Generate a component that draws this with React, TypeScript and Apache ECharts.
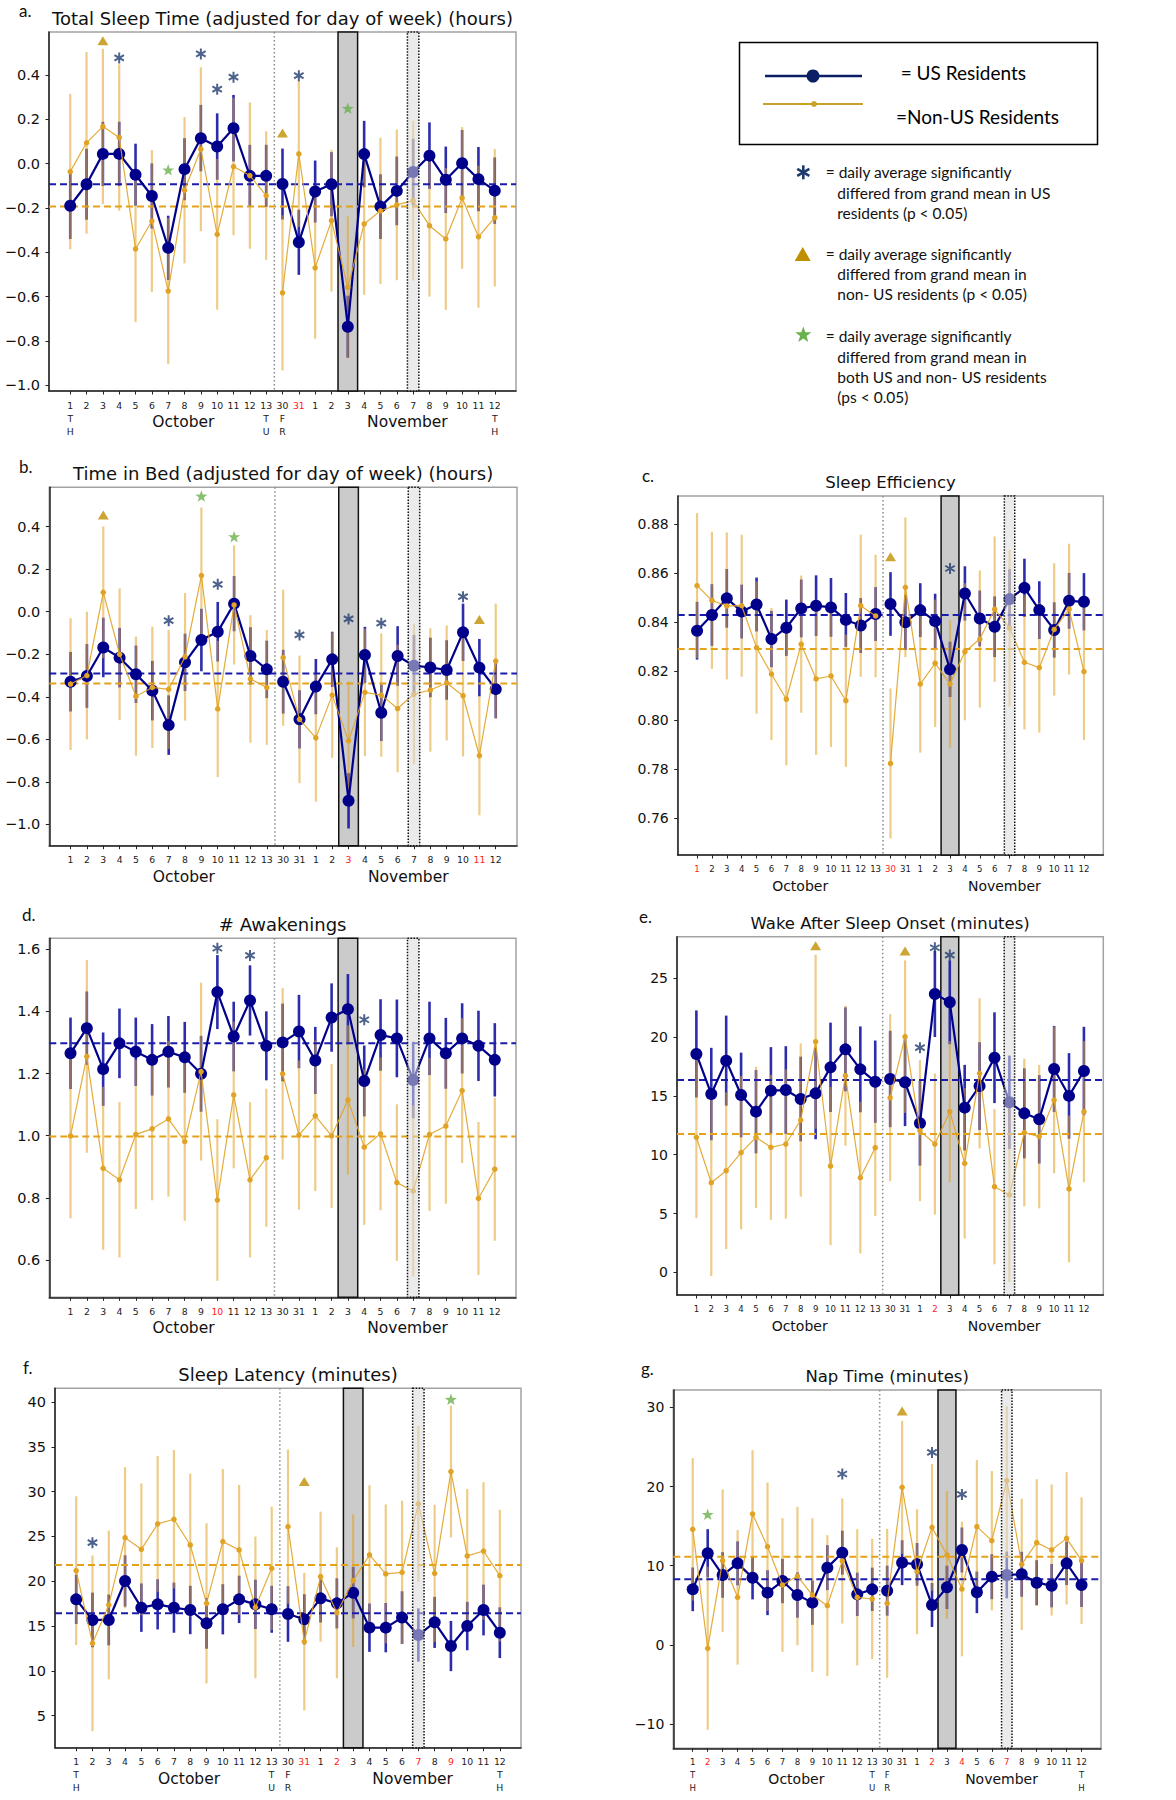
import React, { useEffect, useRef } from "react";
import * as echarts from "echarts";

// ---------------- shared categories ----------------
const dayLabels = ["1","2","3","4","5","6","7","8","9","10","11","12","13","30","31","1","2","3","4","5","6","7","8","9","10","11","12"];
const weekdayLabels = ["TH","","","","","","","","","","","","TU","FR","","","","","","","","","","","","","TH"];
const monthNames = ["October", "November"];
const monthCenters = [6.93, 20.65];
const shadeSpan = [16.4, 17.6]; // Nov 3
const dottedSpan = [20.65, 21.35]; // Nov 7
const dividerX = 12.5;
const gapAfterIndex = 12;

// ---------------- a. Total Sleep Time ----------------
const tstUsMean = [-0.19, -0.093, 0.044, 0.044, -0.05, -0.146, -0.38, -0.025, 0.115, 0.077, 0.16, -0.055, -0.055, -0.092, -0.355, -0.126, -0.093, -0.736, 0.043, -0.194, -0.123, -0.038, 0.036, -0.073, 0.002, -0.07, -0.122];
const tstUsErr = [0.15, 0.16, 0.145, 0.145, 0.14, 0.147, 0.145, 0.14, 0.15, 0.15, 0.15, 0.14, 0.14, 0.16, 0.147, 0.14, 0.145, 0.14, 0.15, 0.146, 0.155, 0.15, 0.15, 0.15, 0.15, 0.145, 0.15];
const tstNonMean = [-0.036, 0.094, 0.168, 0.118, -0.385, -0.259, -0.575, -0.12, 0.065, -0.319, -0.013, -0.054, -0.144, -0.583, 0.044, -0.47, -0.257, -0.558, -0.272, -0.213, -0.186, -0.167, -0.28, -0.34, -0.155, -0.33, -0.244];
const tstNonErr = [0.35, 0.41, 0.35, 0.33, 0.33, 0.32, 0.33, 0.33, 0.37, 0.34, 0.31, 0.33, 0.29, 0.35, 0.33, 0.32, 0.32, 0.32, 0.32, 0.33, 0.34, 0.36, 0.32, 0.32, 0.32, 0.32, 0.31];
const tstUsGrand = -0.093;
const tstNonGrand = -0.194;
const tstTicks = [-1.0, -0.8, -0.6, -0.4, -0.2, 0.0, 0.2, 0.4];
const tstAsterisks = [[3, 0.477], [8, 0.495], [9, 0.336], [10, 0.39], [14, 0.397]];
const tstTriangles = [[2, 0.555], [13, 0.138]];
const tstStars = [[6, -0.028], [17, 0.25]];
const tstRed = [14];

// ---------------- b. Time in Bed ----------------
const tibUsMean = [-0.329, -0.302, -0.168, -0.216, -0.294, -0.371, -0.533, -0.238, -0.133, -0.094, 0.038, -0.208, -0.271, -0.329, -0.506, -0.352, -0.224, -0.889, -0.203, -0.475, -0.208, -0.254, -0.262, -0.274, -0.097, -0.263, -0.364];
const tibUsErr = [0.14, 0.15, 0.14, 0.14, 0.135, 0.14, 0.14, 0.135, 0.147, 0.14, 0.13, 0.135, 0.135, 0.15, 0.137, 0.13, 0.13, 0.13, 0.132, 0.133, 0.14, 0.145, 0.14, 0.14, 0.135, 0.135, 0.137];
const tibNonMean = [-0.34, -0.3, 0.091, -0.2, -0.397, -0.356, -0.365, -0.212, 0.17, -0.457, 0.032, -0.316, -0.356, -0.216, -0.506, -0.593, -0.392, -0.607, -0.379, -0.392, -0.455, -0.387, -0.368, -0.335, -0.395, -0.677, -0.232];
const tibNonErr = [0.31, 0.3, 0.31, 0.31, 0.28, 0.285, 0.28, 0.3, 0.32, 0.32, 0.28, 0.3, 0.27, 0.32, 0.3, 0.3, 0.295, 0.28, 0.3, 0.29, 0.3, 0.33, 0.29, 0.27, 0.285, 0.28, 0.27];
const tibUsGrand = -0.29;
const tibNonGrand = -0.338;
const tibTicks = [-1.0, -0.8, -0.6, -0.4, -0.2, 0.0, 0.2, 0.4];
const tibAsterisks = [[6, -0.042], [9, 0.129], [14, -0.109], [17, -0.034], [19, -0.054], [24, 0.071]];
const tibTriangles = [[2, 0.455], [25, -0.036]];
const tibStars = [[8, 0.544], [10, 0.353]];
const tibRed = [17, 25];

// ---------------- c. Sleep Efficiency ----------------
const seUsMean = [0.8366, 0.843, 0.8498, 0.8444, 0.8473, 0.8332, 0.8378, 0.8457, 0.8468, 0.8461, 0.841, 0.8387, 0.8434, 0.8475, 0.84, 0.845, 0.8405, 0.8208, 0.8518, 0.8416, 0.8382, 0.8495, 0.8541, 0.845, 0.8369, 0.8488, 0.8484];
const seUsErr = [0.0118, 0.0126, 0.012, 0.011, 0.011, 0.0115, 0.0115, 0.0118, 0.0124, 0.012, 0.011, 0.0112, 0.011, 0.013, 0.0113, 0.011, 0.0112, 0.0113, 0.0111, 0.0114, 0.0124, 0.0122, 0.0119, 0.0118, 0.0113, 0.0114, 0.0117];
const seNonMean = [0.855, 0.849, 0.8467, 0.8468, 0.8297, 0.8189, 0.8086, 0.8311, 0.8169, 0.8181, 0.808, 0.8468, 0.8426, 0.7824, 0.8543, 0.8148, 0.8233, 0.8148, 0.828, 0.8332, 0.8454, 0.8376, 0.8237, 0.8215, 0.8371, 0.8454, 0.8199];
const seNonErr = [0.0296, 0.028, 0.03, 0.029, 0.027, 0.027, 0.027, 0.028, 0.031, 0.029, 0.027, 0.029, 0.025, 0.0306, 0.0285, 0.028, 0.026, 0.026, 0.028, 0.028, 0.0297, 0.032, 0.0274, 0.0265, 0.027, 0.0267, 0.0279];
const seUsGrand = 0.843;
const seNonGrand = 0.8291;
const seTicks = [0.76, 0.78, 0.8, 0.82, 0.84, 0.86, 0.88];
const seAsterisks = [[17, 0.862]];
const seTriangles = [[13, 0.8668]];
const seStars: number[][] = [];
const seRed = [0, 13];

// ---------------- d. # Awakenings ----------------
const awUsMean = [1.265, 1.346, 1.214, 1.297, 1.27, 1.244, 1.27, 1.252, 1.199, 1.462, 1.319, 1.435, 1.289, 1.3, 1.335, 1.242, 1.38, 1.407, 1.176, 1.324, 1.313, 1.179, 1.313, 1.265, 1.313, 1.289, 1.244];
const awUsErr = [0.115, 0.118, 0.118, 0.112, 0.11, 0.115, 0.115, 0.114, 0.122, 0.119, 0.112, 0.113, 0.111, 0.125, 0.118, 0.108, 0.11, 0.113, 0.114, 0.115, 0.125, 0.123, 0.118, 0.114, 0.113, 0.113, 0.118];
const awNonMean = [0.999, 1.255, 0.895, 0.858, 1.004, 1.022, 1.054, 0.981, 1.206, 0.793, 1.131, 0.858, 0.929, 1.199, 1.002, 1.064, 0.999, 1.115, 0.963, 1.006, 0.849, 0.822, 1.004, 1.031, 1.145, 0.798, 0.892];
const awNonErr = [0.265, 0.31, 0.262, 0.25, 0.24, 0.23, 0.25, 0.255, 0.286, 0.26, 0.236, 0.25, 0.222, 0.276, 0.24, 0.242, 0.232, 0.24, 0.25, 0.246, 0.252, 0.275, 0.246, 0.25, 0.233, 0.246, 0.23];
const awUsGrand = 1.297;
const awNonGrand = 0.997;
const awTicks = [0.6, 0.8, 1.0, 1.2, 1.4, 1.6];
const awAsterisks = [[9, 1.603], [11, 1.58], [18, 1.373]];
const awTriangles: number[][] = [];
const awStars: number[][] = [];
const awRed = [9];

// ---------------- e. Wake After Sleep Onset ----------------
const wasoUsMean = [18.57, 15.16, 18.0, 15.08, 13.66, 15.45, 15.5, 14.74, 15.22, 17.43, 18.96, 17.26, 16.21, 16.44, 16.16, 12.67, 23.67, 22.96, 14.0, 15.84, 18.25, 14.46, 13.52, 13.01, 17.29, 15.0, 17.12];
const wasoUsErr = [3.7, 3.93, 3.83, 3.6, 3.54, 3.7, 3.73, 3.6, 3.9, 3.8, 3.57, 3.65, 3.5, 4.1, 3.73, 3.6, 3.66, 3.57, 3.64, 3.73, 3.86, 3.97, 3.83, 3.76, 3.66, 3.64, 3.76];
const wasoNonMean = [11.48, 7.62, 8.64, 10.18, 11.48, 10.63, 10.91, 12.95, 19.61, 9.04, 16.72, 8.05, 10.6, 14.85, 20.04, 12.05, 10.91, 13.66, 9.27, 16.92, 7.28, 6.58, 11.88, 11.54, 14.65, 7.09, 13.66];
const wasoNonErr = [6.87, 7.94, 6.66, 6.52, 6.0, 6.17, 6.35, 6.52, 7.4, 6.73, 5.95, 6.45, 5.8, 7.1, 6.49, 6.0, 6.0, 6.0, 6.4, 6.38, 6.6, 7.4, 6.28, 6.1, 6.24, 6.24, 6.0];
const wasoUsGrand = 16.35;
const wasoNonGrand = 11.76;
const wasoTicks = [0, 5, 10, 15, 20, 25];
const wasoAsterisks = [[15, 19.1], [16, 27.6], [17, 26.98]];
const wasoTriangles = [[8, 27.78], [14, 27.32]];
const wasoStars: number[][] = [];
const wasoRed = [16];

// ---------------- f. Sleep Latency ----------------
const slUsMean = [17.98, 15.68, 15.68, 20.03, 17.05, 17.42, 17.05, 16.79, 15.3, 16.87, 17.98, 17.42, 16.87, 16.34, 15.75, 18.09, 17.53, 18.72, 14.82, 14.82, 15.94, 14.0, 15.41, 12.77, 15.0, 16.79, 14.26];
const slUsErr = [2.75, 3.05, 2.83, 2.86, 2.7, 2.8, 2.8, 2.7, 2.83, 2.8, 2.64, 2.75, 2.62, 3.1, 2.8, 2.7, 2.8, 2.88, 2.7, 2.75, 2.94, 2.97, 2.85, 2.8, 2.7, 2.83, 2.83];
const slNonMean = [21.18, 13.07, 17.35, 24.86, 23.56, 26.39, 26.91, 24.04, 17.53, 24.42, 23.49, 17.09, 21.44, 26.09, 13.26, 20.51, 16.49, 20.06, 22.93, 20.81, 20.99, 28.62, 20.88, 32.23, 22.82, 23.37, 20.62];
const slNonErr = [8.3, 9.8, 8.3, 7.87, 7.35, 7.57, 7.72, 7.96, 8.93, 8.1, 7.25, 7.9, 6.88, 8.6, 7.68, 7.25, 7.3, 7.4, 7.77, 7.75, 8.0, 8.7, 7.66, 7.35, 7.47, 7.68, 7.35];
const slUsGrand = 16.42;
const slNonGrand = 21.81;
const slTicks = [5, 10, 15, 20, 25, 30, 35, 40];
const slAsterisks = [[1, 24.3]];
const slTriangles = [[14, 31.11]];
const slStars = [[23, 40.3]];
const slRed = [14, 16, 21, 23];

// ---------------- g. Nap Time ----------------
const napUsMean = [7.01, 11.56, 8.82, 10.29, 8.48, 6.59, 8.06, 6.29, 5.33, 9.75, 11.64, 6.38, 7.01, 6.84, 10.38, 10.17, 5.03, 7.26, 11.98, 6.63, 8.61, 8.82, 8.91, 7.85, 7.47, 10.29, 7.56];
const napUsErr = [2.76, 3.05, 2.88, 2.78, 2.74, 2.84, 2.8, 2.86, 2.8, 2.84, 2.78, 2.74, 2.74, 3.16, 2.84, 2.7, 2.78, 2.74, 2.84, 2.63, 2.84, 2.95, 2.84, 2.84, 2.74, 2.74, 2.78];
const napNonMean = [14.59, -0.44, 10.63, 6.0, 16.53, 12.4, 7.56, 8.69, 6.29, 4.95, 10.59, 6.0, 5.79, 5.24, 19.9, 9.24, 14.84, 11.35, 7.05, 14.93, 13.16, 20.74, 10.17, 12.91, 11.98, 13.45, 10.63];
const napNonErr = [9.0, 10.3, 9.0, 8.5, 8.07, 8.1, 8.44, 8.74, 9.7, 8.9, 7.9, 8.6, 7.6, 9.4, 8.4, 7.9, 8.0, 8.06, 8.5, 8.4, 8.8, 9.4, 8.3, 8.0, 8.27, 8.36, 8.0];
const napUsGrand = 8.27;
const napNonGrand = 11.14;
const napTicks = [-10, 0, 10, 20, 30];
const napAsterisks = [[10, 21.58], [16, 24.3], [18, 19.0]];
const napTriangles = [[14, 29.54]];
const napStars = [[1, 16.48]];
const napRed = [1, 16, 18, 21];

// ---------------- panel definitions ----------------
const panels = [
  { letter: "a.", title: "Total Sleep Time (adjusted for day of week) (hours)", usMean: tstUsMean, usErr: tstUsErr, nonMean: tstNonMean, nonErr: tstNonErr, usGrand: tstUsGrand, nonGrand: tstNonGrand, ticks: tstTicks, dec: 1, yMin: -1.026, yMax: 0.594, asterisks: tstAsterisks, triangles: tstTriangles, stars: tstStars, red: tstRed, weekdays: true },
  { letter: "b.", title: "Time in Bed (adjusted for day of week) (hours)", usMean: tibUsMean, usErr: tibUsErr, nonMean: tibNonMean, nonErr: tibNonErr, usGrand: tibUsGrand, nonGrand: tibNonGrand, ticks: tibTicks, dec: 1, yMin: -1.1, yMax: 0.585, asterisks: tibAsterisks, triangles: tibTriangles, stars: tibStars, red: tibRed, weekdays: false },
  { letter: "c.", title: "Sleep Efficiency", usMean: seUsMean, usErr: seUsErr, nonMean: seNonMean, nonErr: seNonErr, usGrand: seUsGrand, nonGrand: seNonGrand, ticks: seTicks, dec: 2, yMin: 0.745, yMax: 0.8916, asterisks: seAsterisks, triangles: seTriangles, stars: seStars, red: seRed, weekdays: false },
  { letter: "d.", title: "# Awakenings", usMean: awUsMean, usErr: awUsErr, nonMean: awNonMean, nonErr: awNonErr, usGrand: awUsGrand, nonGrand: awNonGrand, ticks: awTicks, dec: 1, yMin: 0.48, yMax: 1.635, asterisks: awAsterisks, triangles: awTriangles, stars: awStars, red: awRed, weekdays: false },
  { letter: "e.", title: "Wake After Sleep Onset (minutes)", usMean: wasoUsMean, usErr: wasoUsErr, nonMean: wasoNonMean, nonErr: wasoNonErr, usGrand: wasoUsGrand, nonGrand: wasoNonGrand, ticks: wasoTicks, dec: 0, yMin: -1.93, yMax: 28.54, asterisks: wasoAsterisks, triangles: wasoTriangles, stars: wasoStars, red: wasoRed, weekdays: false },
  { letter: "f.", title: "Sleep Latency (minutes)", usMean: slUsMean, usErr: slUsErr, nonMean: slNonMean, nonErr: slNonErr, usGrand: slUsGrand, nonGrand: slNonGrand, ticks: slTicks, dec: 0, yMin: 1.43, yMax: 41.52, asterisks: slAsterisks, triangles: slTriangles, stars: slStars, red: slRed, weekdays: true },
  { letter: "g.", title: "Nap Time (minutes)", usMean: napUsMean, usErr: napUsErr, nonMean: napNonMean, nonErr: napNonErr, usGrand: napUsGrand, nonGrand: napNonGrand, ticks: napTicks, dec: 0, yMin: -13.07, yMax: 32.19, asterisks: napAsterisks, triangles: napTriangles, stars: napStars, red: napRed, weekdays: true },
];

// layout (pixels)
const layouts = [
  { left: 49, top: 32, width: 467, height: 359, letterX: 19, letterY: 10, side: "L" },
  { left: 49.3, top: 487.3, width: 467.7, height: 358.4, letterX: 19, letterY: 466, side: "L" },
  { left: 677.7, top: 496, width: 425.6, height: 359, letterX: 642, letterY: 475, side: "R" },
  { left: 49.3, top: 938.3, width: 466.7, height: 359, letterX: 22, letterY: 914.5, side: "L" },
  { left: 677, top: 936.7, width: 426.3, height: 358.3, letterX: 639, letterY: 916.5, side: "R" },
  { left: 55, top: 1388.3, width: 466, height: 359.4, letterX: 23, letterY: 1367.5, side: "L" },
  { left: 673.3, top: 1390, width: 427.7, height: 358.3, letterX: 641, letterY: 1368, side: "R" },
];

const FONT = "'DejaVu Sans', sans-serif";
const LEG_FONT = "Lato, 'Open Sans', sans-serif";
const NAVY = "#00008b";
const NAVY_BAR = "rgba(16,16,160,0.88)";
const NAVY_DASH = "#1c1caa";
const GOLD = "#e0a325";
const GOLD_BAR = "rgba(224,163,37,0.55)";
const GOLD_DASH = "#e3a21a";
const AST_COLOR = "#1f3a6e";
const TRI_COLOR = "#bf8f00";
const STAR_COLOR = "#6ab04c";
const RED = "#ff1a1a";
const X_MIN = -1.3;
const X_MAX = 27.3;

const ASTER_PATH = "path://M-1.8,-10L1.8,-10L1.8,10L-1.8,10Z M7.76,-6.559L9.56,-3.441L-7.76,6.559L-9.56,3.441Z M-9.56,-3.441L-7.76,-6.559L9.56,3.441L7.76,6.559Z";
const STAR_PTS = [[0, -10], [2.351, -3.236], [9.511, -3.09], [3.804, 1.236], [5.878, 8.09], [0, 4], [-5.878, 8.09], [-3.804, 1.236], [-9.511, -3.09], [-2.351, -3.236]];
const STAR_PATH = "path://M" + STAR_PTS.map((q) => q[0] + "," + q[1]).join("L") + "Z";

function fmtTick(v: number, dec: number) {
  const s = Math.abs(v) < 1e-9 ? (0).toFixed(dec) : v.toFixed(dec);
  return s.replace("-", "\u2212");
}

function withGap(arr: number[]) {
  const out: any[] = [];
  arr.forEach((v, k) => {
    out.push([k, v]);
    if (k === gapAfterIndex) out.push([dividerX, "-"]);
  });
  return out;
}

function textStyle(text: string, font: string, fill: string, align: string, valign: string) {
  return { text, font, fill, textAlign: align, textVerticalAlign: valign, align, verticalAlign: valign };
}

function buildOption() {
  const grid: any[] = [];
  const xAxis: any[] = [];
  const yAxis: any[] = [];
  const series: any[] = [];
  const graphic: any[] = [];
  const idx = dayLabels.map((_, k) => k);

  panels.forEach((p, i) => {
    const L = layouts[i];
    const left = L.side === "L";
    const fs = left ? { title: 18, ytick: 14.5, xtick: 9.3, month: 15.5 } : { title: 16.5, ytick: 14, xtick: 8.6, month: 14 };
    grid.push({ left: L.left, top: L.top, width: L.width, height: L.height, show: true, borderColor: "#a3a3a3", borderWidth: 1.5, backgroundColor: "transparent" });
    xAxis.push({
      type: "value", gridIndex: i, min: X_MIN, max: X_MAX,
      axisLine: { show: true, onZero: false, lineStyle: { color: "#222", width: 1.5 } },
      axisTick: { show: true, customValues: idx, length: 3.5, lineStyle: { color: "#222", width: 1 } },
      splitLine: { show: false },
      axisLabel: {
        show: true, customValues: idx, margin: 7.5,
        formatter: (v: number) => {
          const k = Math.round(v);
          const st = p.red.includes(k) ? "r" : "n";
          let s = "{" + st + "|" + dayLabels[k] + "}";
          if (p.weekdays && weekdayLabels[k]) s += "\n{w|" + weekdayLabels[k][0] + "}\n{w|" + weekdayLabels[k][1] + "}";
          return s;
        },
        rich: {
          n: { fontSize: fs.xtick, fontFamily: FONT, color: "#1a1a1a", lineHeight: 13 },
          r: { fontSize: fs.xtick, fontFamily: FONT, color: RED, lineHeight: 13 },
          w: { fontSize: fs.xtick, fontFamily: FONT, color: "#1a1a1a", lineHeight: 13 },
        },
      },
    });
    yAxis.push({
      type: "value", gridIndex: i, min: p.yMin, max: p.yMax,
      axisLine: { show: true, onZero: false, lineStyle: { color: "#222", width: 1.5 } },
      axisTick: { show: true, customValues: p.ticks, length: 3.5, lineStyle: { color: "#222", width: 1 } },
      splitLine: { show: false },
      axisLabel: {
        show: true, customValues: p.ticks, margin: 9,
        formatter: (v: number) => "{t|" + fmtTick(v, p.dec) + "}",
        rich: { t: { fontSize: fs.ytick, fontFamily: FONT, color: "#111" } },
      },
    });

    const midY = (p.yMin + p.yMax) / 2;
    // background: gray rect (Nov 3) + dotted divider
    series.push({
      type: "custom", xAxisIndex: i, yAxisIndex: i, z: 1, silent: true, data: [[0, midY]],
      renderItem: (params: any, api: any) => {
        const cs = params.coordSys;
        const xa = api.coord([shadeSpan[0], midY])[0];
        const xb = api.coord([shadeSpan[1], midY])[0];
        const xd = api.coord([dividerX, midY])[0];
        return {
          type: "group", children: [
            { type: "rect", shape: { x: xa, y: cs.y, width: xb - xa, height: cs.height }, style: { fill: "#cbcbcb", stroke: "#111", lineWidth: 1.5 } },
            { type: "line", shape: { x1: xd, y1: cs.y, x2: xd, y2: cs.y + cs.height }, style: { stroke: "#8a8a8a", lineWidth: 1.5, lineDash: [1.5, 2.5] } },
          ],
        };
      },
    });
    // error bars
    const bar = (mean: number[], err: number[], color: string, w: number, z: number) => ({
      type: "custom", xAxisIndex: i, yAxisIndex: i, z, silent: true,
      data: mean.map((m, k) => [k, m - err[k], m + err[k]]),
      renderItem: (params: any, api: any) => {
        const x = api.value(0);
        const a = api.coord([x, api.value(1)]);
        const b = api.coord([x, api.value(2)]);
        return { type: "line", shape: { x1: a[0], y1: a[1], x2: b[0], y2: b[1] }, style: { stroke: color, lineWidth: w } };
      },
    });
    series.push(bar(p.usMean, p.usErr, NAVY_BAR, 2.6, 3));
    series.push(bar(p.nonMean, p.nonErr, GOLD_BAR, 2.2, 4));
    // grand means
    series.push({
      type: "custom", xAxisIndex: i, yAxisIndex: i, z: 5, silent: true, data: [[0, midY]],
      renderItem: (params: any, api: any) => {
        const cs = params.coordSys;
        const yn = api.coord([0, p.nonGrand])[1];
        const yu = api.coord([0, p.usGrand])[1];
        return {
          type: "group", children: [
            { type: "line", shape: { x1: cs.x, y1: yn, x2: cs.x + cs.width, y2: yn }, style: { stroke: GOLD_DASH, lineWidth: 2, lineDash: [7, 4] } },
            { type: "line", shape: { x1: cs.x, y1: yu, x2: cs.x + cs.width, y2: yu }, style: { stroke: NAVY_DASH, lineWidth: 2, lineDash: [7, 4] } },
          ],
        };
      },
    });
    // lines
    series.push({
      type: "line", xAxisIndex: i, yAxisIndex: i, z: 6, silent: true, data: withGap(p.usMean),
      symbol: "circle", symbolSize: 12, showSymbol: true, connectNulls: false,
      lineStyle: { color: NAVY, width: 2.2 }, itemStyle: { color: NAVY },
    });
    series.push({
      type: "line", xAxisIndex: i, yAxisIndex: i, z: 7, silent: true, data: withGap(p.nonMean),
      symbol: "circle", symbolSize: 5.5, showSymbol: true, connectNulls: false,
      lineStyle: { color: GOLD, width: 1.2, opacity: 0.9 }, itemStyle: { color: GOLD },
    });
    // overlay (Nov 7) + month labels
    series.push({
      type: "custom", xAxisIndex: i, yAxisIndex: i, z: 8, silent: true, data: [[0, midY]],
      renderItem: (params: any, api: any) => {
        const cs = params.coordSys;
        const xa = api.coord([dottedSpan[0], midY])[0];
        const xb = api.coord([dottedSpan[1], midY])[0];
        return { type: "rect", shape: { x: xa, y: cs.y, width: xb - xa, height: cs.height }, style: { fill: "rgba(218,218,218,0.55)", stroke: "#111", lineWidth: 1.5, lineDash: [1.5, 1.5] } };
      },
    });
    series.push({
      type: "custom", xAxisIndex: i, yAxisIndex: i, z: 8, silent: true,
      data: monthCenters.map((c, k) => [c, midY, k]),
      renderItem: (params: any, api: any) => {
        const cs = params.coordSys;
        const pt = api.coord([api.value(0), midY]);
        return { type: "text", x: pt[0], y: cs.y + cs.height + 31, style: textStyle(monthNames[api.value(2)], fs.month + "px " + FONT, "#111", "center", "middle") };
      },
    });
    // significance markers
    series.push({ type: "scatter", xAxisIndex: i, yAxisIndex: i, z: 9, silent: true, symbol: ASTER_PATH, symbolSize: [10.5, 11], itemStyle: { color: AST_COLOR }, data: p.asterisks });
    series.push({ type: "scatter", xAxisIndex: i, yAxisIndex: i, z: 9, silent: true, symbol: "triangle", symbolSize: [11, 9], itemStyle: { color: TRI_COLOR }, data: p.triangles });
    series.push({ type: "scatter", xAxisIndex: i, yAxisIndex: i, z: 9, silent: true, symbol: STAR_PATH, symbolSize: [12, 11.5], itemStyle: { color: STAR_COLOR }, data: p.stars });

    // titles & letters
    graphic.push({ type: "text", x: L.left + L.width / 2, y: L.top - 13.5, style: textStyle(p.title, fs.title + "px " + FONT, "#111", "center", "middle") });
    graphic.push({ type: "text", x: L.letterX, y: L.letterY, style: textStyle(p.letter, "17px " + LEG_FONT, "#111", "left", "middle") });
  });

  // ---------- legend ----------
  const LEG_NAVY = "#0b1f66";
  const LEG_GOLD = "#c9a227";
  graphic.push({ type: "rect", shape: { x: 739.5, y: 42.5, width: 358, height: 102 }, style: { fill: "#fff", stroke: "#000", lineWidth: 1.5 } });
  graphic.push({ type: "line", shape: { x1: 765, y1: 76, x2: 862, y2: 76 }, style: { stroke: LEG_NAVY, lineWidth: 2.5 } });
  graphic.push({ type: "circle", shape: { cx: 813, cy: 76, r: 6.5 }, style: { fill: LEG_NAVY } });
  graphic.push({ type: "text", x: 900.7, y: 72, style: textStyle("= US Residents", "19px " + LEG_FONT, "#000", "left", "middle") });
  graphic.push({ type: "line", shape: { x1: 763, y1: 104, x2: 863, y2: 104 }, style: { stroke: LEG_GOLD, lineWidth: 1.8 } });
  graphic.push({ type: "circle", shape: { cx: 814, cy: 104, r: 3 }, style: { fill: LEG_GOLD } });
  graphic.push({ type: "text", x: 896, y: 116, style: textStyle("=Non-US Residents", "19px " + LEG_FONT, "#000", "left", "middle") });

  // legend symbols
  graphic.push({
    type: "group", x: 803.3, y: 172.3,
    children: [0, Math.PI / 3, -Math.PI / 3].map((r) => ({ type: "rect", rotation: r, shape: { x: -1.3, y: -7, width: 2.6, height: 14 }, style: { fill: AST_COLOR } })),
  });
  graphic.push({ type: "polygon", shape: { points: [[794.7, 261], [810.7, 261], [802.7, 247]] }, style: { fill: TRI_COLOR } });
  graphic.push({ type: "polygon", shape: { points: STAR_PTS.map((q) => [803.3 + q[0] * 0.85, 335 + q[1] * 0.85]) }, style: { fill: STAR_COLOR } });

  const legLines = [
    { x: 825.7, y: 171.7, t: "= daily average significantly" },
    { x: 837.3, y: 192.7, t: "differed from grand mean in US" },
    { x: 837.3, y: 212.7, t: "residents (p < 0.05)" },
    { x: 825.7, y: 254, t: "= daily average significantly" },
    { x: 837.3, y: 274.3, t: "differed from grand mean in" },
    { x: 837.3, y: 294.3, t: "non- US residents (p < 0.05)" },
    { x: 825.7, y: 336, t: "= daily average significantly" },
    { x: 837.3, y: 356.7, t: "differed from grand mean in" },
    { x: 837.3, y: 376.7, t: "both US and non- US residents" },
    { x: 837.3, y: 397.3, t: "(ps < 0.05)" },
  ];
  legLines.forEach((l) => graphic.push({ type: "text", x: l.x, y: l.y, style: textStyle(l.t, "15.5px " + LEG_FONT, "#111", "left", "middle") }));

  return { animation: false, backgroundColor: "#fff", grid, xAxis, yAxis, series, graphic };
}

export default function App() {
  const ref = useRef<HTMLDivElement>(null);
  useEffect(() => {
    if (!ref.current) return;
    const chart = echarts.init(ref.current, null, { renderer: "svg", width: 1176, height: 1800 });
    chart.setOption(buildOption() as any);
    return () => chart.dispose();
  }, []);
  return <div ref={ref} style={{ position: "absolute", left: 0, top: 0, width: 1176, height: 1800, background: "#fff" }} />;
}
